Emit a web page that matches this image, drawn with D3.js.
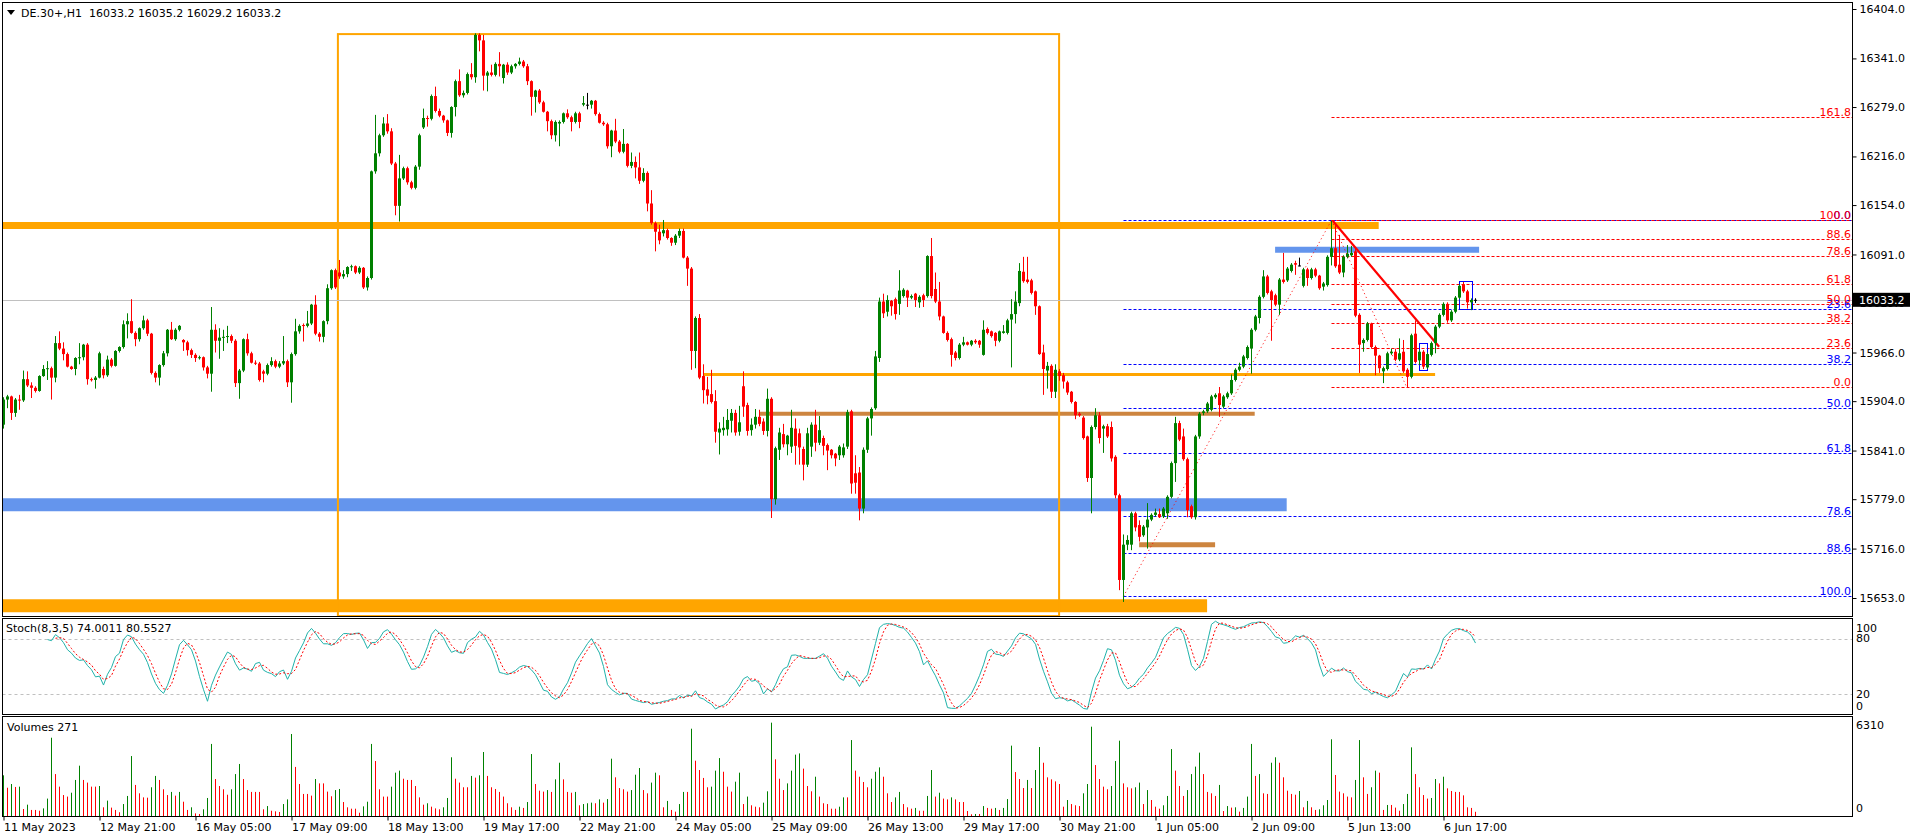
<!DOCTYPE html>
<html>
<head>
<meta charset="utf-8">
<script src="https://cdn.jsdelivr.net/npm/d3@7"></script>
<style>
  body { margin: 0; background: #fff; }
  svg { display: block; font-family: "DejaVu Sans", sans-serif; font-size: 11px; }
</style>
</head>
<body>
<svg id="chart" width="1916" height="840"></svg>
<script>
// DE.30+ H1 bars (bar 0 = left edge)
var opens = [
  15874,15906,15910,15889,15906,15905,15932,15924,15921,15917,15936,15945,
  15946,15934,15978,15971,15964,15948,15945,15959,15960,15976,15932,15931,
  15934,15945,15937,15957,15949,15968,15973,16002,16006,15991,15983,15997,
  16007,15990,15940,15934,15950,15965,15995,15983,15995,15982,15979,15969,
  15963,15959,15960,15947,15939,15995,15981,15985,15986,15987,15981,15927,
  15943,15983,15965,15953,15952,15942,15939,15950,15955,15948,15952,15955,
  15928,15964,15993,16001,16000,16003,16027,15990,15986,16006,16048,16071,
  16068,16063,16066,16075,16076,16068,16074,16049,16061,16197,16220,16243,
  16258,16248,16207,16153,16188,16201,16183,16176,16203,16253,16265,16264,
  16293,16274,16268,16262,16246,16279,16312,16294,16297,16321,16317,16371,
  16364,16319,16323,16320,16334,16316,16333,16323,16331,16334,16337,16331,
  16312,16292,16300,16285,16273,16261,16243,16258,16260,16271,16266,16260,
  16271,16282,16282,16282,16287,16270,16259,16257,16229,16249,16235,16222,
  16232,16204,16209,16202,16185,16195,16156,16131,16120,16118,16122,16112,
  16106,16115,16121,16087,16073,15968,16010,15936,15919,15913,15904,15864,
  15867,15868,15879,15889,15865,15923,15899,15867,15874,15884,15878,15866,
  15907,15779,15842,15862,15849,15846,15869,15863,15843,15823,15846,15874,
  15851,15857,15848,15842,15837,15835,15835,15846,15891,15812,15813,15767,
  15842,15882,15895,15959,16031,16018,16032,16034,16028,16038,16045,16036,
  16041,16030,16039,16038,16089,16047,16031,16012,15991,15983,15966,15959,
  15976,15979,15976,15981,15981,15963,15996,15993,15991,15981,15991,15991,
  16008,16015,16029,16069,16059,16058,16044,16025,15966,15943,15949,15916,
  15942,15937,15928,15916,15903,15888,15883,15859,15806,15871,15886,15869,
  15872,15871,15833,15784,15676,15721,15721,15761,15746,15733,15743,15753,
  15759,15760,15757,15761,15782,15825,15876,15859,15830,15770,15756,15859,
  15889,15891,15893,15909,15914,15897,15909,15914,15931,15944,15948,15959,
  15971,15995,16010,16037,16063,16044,16039,16027,16059,16058,16070,16080,
  16077,16051,16072,16061,16072,16064,16050,16052,16088,16099,16078,16068,
  16088,16090,16095,16014,15978,15982,16003,15973,15962,15942,15945,15965,
  15967,15957,15967,15944,15935,15990,15956,15967,15947,15963,15978,15999,
  16014,16028,16007,16018,16036,16053,16044,16030,16033.2
];
var highs = [
  15909,15912,15911,15908,15912,15943,15942,15928,15923,15937,15950,15955,
  15948,15987,15993,15979,15966,15949,15960,15978,15977,15978,15934,15936,
  15967,15948,15962,15959,15969,15974,16007,16016,16034,15993,15998,16013,
  16009,15991,15942,15951,15968,15996,16005,15997,16001,15983,15981,15971,
  15965,15962,15961,15949,16024,16002,15997,15995,16000,15989,15983,15945,
  15984,15990,15967,15956,15954,15944,15952,15960,15957,15955,15987,15957,
  15966,16009,16002,16003,16019,16028,16039,15992,16007,16053,16072,16073,
  16084,16071,16076,16078,16077,16076,16075,16063,16198,16269,16245,16266,
  16270,16252,16209,16218,16203,16203,16185,16205,16245,16277,16268,16295,
  16305,16277,16269,16263,16280,16314,16327,16300,16323,16335,16373,16373,
  16371,16325,16333,16336,16349,16334,16336,16333,16335,16342,16339,16334,
  16313,16301,16302,16287,16274,16263,16262,16262,16272,16276,16268,16273,
  16273,16293,16297,16288,16288,16272,16261,16259,16250,16264,16237,16251,
  16233,16221,16216,16221,16201,16197,16173,16133,16129,16135,16124,16113,
  16117,16124,16124,16089,16075,16012,16015,15951,15935,15944,15918,15877,
  15884,15894,15894,15893,15898,15942,15902,15882,15894,15893,15882,15920,
  15909,15846,15870,15875,15861,15893,15882,15869,15846,15870,15877,15893,
  15885,15860,15850,15843,15838,15848,15850,15893,15893,15835,15820,15845,
  15884,15896,15968,16036,16041,16039,16033,16036,16071,16048,16046,16040,
  16042,16039,16041,16090,16112,16068,16056,16013,15993,15985,15968,15978,
  15986,15980,15982,15983,15982,16007,15998,15994,15992,15994,16001,16009,
  16034,16044,16080,16088,16088,16060,16045,16026,15976,15954,15951,15951,
  15945,15940,15930,15917,15904,15890,15885,15860,15873,15895,15890,15874,
  15875,15878,15835,15786,15734,15733,15763,15763,15752,15746,15774,15761,
  15767,15767,15769,15784,15827,15884,15879,15869,15832,15772,15861,15890,
  15893,15903,15912,15914,15922,15912,15916,15938,15946,15953,15963,15975,
  15997,16014,16039,16071,16065,16046,16041,16061,16093,16075,16080,16083,
  16087,16074,16074,16074,16074,16065,16056,16090,16134,16131,16116,16090,
  16103,16102,16099,16016,15984,16005,16004,15975,15963,15948,15967,15971,
  15971,15984,15982,15946,15990,16007,15969,15969,15966,15980,16001,16016,
  16030,16030,16020,16038,16053,16056,16046,16035,16035.2
];
var lows = [
  15869,15895,15880,15884,15893,15903,15922,15908,15915,15916,15935,15931,
  15906,15928,15969,15956,15947,15944,15937,15951,15956,15925,15929,15920,
  15933,15933,15935,15947,15948,15966,15971,15984,15990,15974,15980,15995,
  15987,15938,15928,15924,15948,15961,15982,15981,15993,15968,15962,15959,
  15954,15957,15943,15933,15916,15966,15958,15968,15978,15978,15922,15907,
  15941,15962,15952,15950,15929,15928,15937,15948,15946,15946,15950,15922,
  15902,15962,15990,15980,15998,16001,15988,15980,15979,16002,16046,16047,
  16060,16060,16062,16070,16066,16066,16047,16045,16059,16194,16216,16241,
  16245,16205,16141,16133,16186,16180,16174,16174,16199,16251,16254,16262,
  16272,16266,16259,16242,16240,16267,16292,16291,16295,16314,16310,16350,
  16300,16299,16318,16318,16318,16309,16320,16321,16328,16332,16329,16307,
  16268,16272,16283,16272,16248,16238,16235,16229,16258,16264,16248,16258,
  16252,16280,16276,16277,16268,16258,16255,16226,16215,16233,16220,16220,
  16202,16201,16188,16181,16183,16146,16129,16095,16104,16114,16110,16102,
  16103,16112,16086,16051,15944,15946,15932,15901,15900,15901,15851,15836,
  15860,15860,15864,15860,15860,15884,15860,15860,15869,15872,15861,15859,
  15755,15772,15829,15845,15835,15838,15823,15823,15803,15820,15833,15840,
  15848,15835,15816,15831,15821,15829,15832,15843,15786,15786,15752,15761,
  15838,15860,15893,15954,16010,16012,16013,16008,16014,16036,16024,16034,
  16024,16023,16024,16036,16035,16029,16007,15990,15980,15948,15956,15957,
  15974,15975,15974,15977,15972,15962,15989,15985,15974,15979,15990,15989,
  15947,16003,16025,16055,16054,16040,16014,15963,15912,15920,15908,15908,
  15930,15920,15912,15901,15881,15884,15855,15801,15761,15868,15850,15838,
  15857,15827,15780,15663,15648,15714,15714,15738,15725,15731,15716,15751,
  15757,15755,15755,15754,15780,15801,15853,15828,15756,15754,15753,15856,
  15886,15889,15891,15907,15884,15895,15907,15912,15929,15942,15946,15957,
  15939,15993,16003,16035,16040,15981,16025,16014,16054,16056,16068,16065,
  16076,16049,16051,16059,16062,16046,16045,16050,16077,16074,16066,16062,
  16086,16088,16011,15940,15967,15980,15971,15937,15940,15927,15943,15963,
  15955,15955,15940,15922,15933,15952,15950,15945,15945,15961,15965,15997,
  16012,16004,16005,16016,16034,16042,16022,16020,16029.2
];
var closes = [
  15906,15910,15889,15906,15905,15932,15924,15921,15917,15936,15945,15946,
  15934,15978,15971,15964,15948,15945,15959,15960,15976,15932,15931,15934,
  15965,15937,15957,15949,15968,15973,16002,16006,15991,15983,15997,16007,
  15990,15940,15934,15950,15965,15995,15983,15995,16000,15979,15969,15963,
  15959,15960,15947,15939,15995,15981,15985,15986,15987,15981,15927,15943,
  15983,15965,15953,15952,15931,15939,15950,15955,15948,15952,15955,15928,
  15964,15993,16000,16000,16003,16027,15990,15986,16006,16048,16071,16049,
  16063,16066,16075,16076,16068,16074,16049,16061,16197,16220,16243,16258,
  16248,16207,16153,16188,16201,16183,16176,16203,16243,16265,16264,16293,
  16274,16268,16262,16246,16279,16312,16294,16297,16321,16317,16371,16364,
  16319,16323,16320,16334,16331,16333,16323,16331,16334,16337,16331,16312,
  16292,16300,16285,16273,16261,16243,16260,16260,16271,16266,16260,16271,
  16260,16284,16282,16287,16270,16259,16257,16229,16249,16235,16222,16232,
  16204,16209,16202,16185,16195,16156,16131,16120,16109,16122,16112,16106,
  16115,16121,16087,16073,15968,16010,15934,15918,15911,15903,15865,15869,
  15870,15880,15889,15864,15877,15897,15866,15874,15884,15875,15866,15907,
  15779,15844,15864,15849,15860,15870,15847,15845,15823,15863,15874,15851,
  15867,15847,15841,15835,15831,15846,15845,15890,15799,15800,15767,15842,
  15882,15894,15961,16031,16016,16033,16025,16015,16045,16046,16036,16038,
  16033,16037,16033,16089,16038,16031,16012,15991,15982,15963,15959,15976,
  15979,15976,15981,15979,15976,15995,15991,15987,15981,15993,15993,16007,
  16015,16031,16070,16057,16056,16042,16025,15964,15945,15949,15916,15944,
  15936,15929,15915,15903,15886,15886,15857,15806,15871,15886,15857,15872,
  15859,15831,15784,15676,15721,15727,15761,15743,15731,15744,15753,15759,
  15762,15756,15767,15782,15825,15876,15855,15830,15765,15756,15859,15888,
  15891,15901,15910,15912,15899,15910,15914,15931,15944,15948,15961,15973,
  15995,16012,16037,16063,16042,16033,16027,16059,16056,16073,16078,16078,
  16077,16072,16061,16072,16064,16048,16054,16088,16099,16076,16068,16088,
  16092,16093,16013,15976,15982,16003,15973,15962,15946,15946,15965,15967,
  15957,15965,15942,15935,15988,15954,15967,15948,15964,15978,15999,16014,
  16028,16007,16018,16036,16051,16044,16030,16033,16033.2
];
var volumes = [
  2620,1820,2060,1870,1890,450,730,390,390,340,490,1120,
  5040,2700,1890,1350,1250,1500,2320,3240,2320,2150,1890,1890,
  1930,560,990,540,390,240,770,1290,3860,2000,1460,1200,
  1180,1850,2580,2320,1720,1350,1550,1310,1550,920,390,560,
  170,130,430,1160,4640,2380,1930,1720,1370,1720,2700,3350,
  2380,1670,1550,1550,1550,430,640,340,300,260,770,1070,
  5280,3160,2060,1420,1420,1310,2380,2100,2100,1570,1270,1670,
  1740,900,560,470,470,210,620,920,4640,3540,1720,1250,
  1250,1890,2790,2920,2400,2320,2320,1930,1200,730,820,600,
  490,430,560,1160,3780,2400,2150,1850,1850,2580,2470,2620,
  4120,2580,1850,1740,1550,1250,820,560,390,600,520,900,
  3990,2060,1630,1570,1670,1550,2360,3430,2360,1550,1500,1550,
  690,770,820,860,820,1070,860,1090,3690,2490,1800,1720,
  1570,1670,2660,3090,1670,1460,2150,2790,2620,560,970,390,
  280,770,1550,1550,5620,3560,2960,2450,1850,1890,2920,3730,
  2850,1890,1570,2210,2790,770,1250,690,600,560,860,1590,
  6010,3650,2400,1670,2100,2920,3950,4030,3050,1930,1590,2530,
  1250,820,770,470,470,600,1200,1200,4890,2920,2530,2190,
  1850,2400,2850,3130,2530,1460,900,1200,1550,770,560,470,
  520,340,340,1290,2960,1250,1500,1120,1070,1200,1070,900,
  900,320,110,130,130,640,520,470,520,390,520,1090,
  4530,2830,2380,1800,2320,1800,2960,4440,3430,2490,2360,2230,
  2060,600,1030,770,690,640,1460,2060,5750,3280,2380,1890,
  1720,1930,3540,4850,2100,1850,1780,1850,2150,770,1670,1030,
  600,470,690,1290,4310,2920,1930,1290,1670,2700,3180,4080,
  2700,1550,1460,1290,2000,320,640,540,560,280,520,1250,
  4640,2580,2700,1460,1420,3430,3780,3430,2490,1630,1420,1370,
  1610,560,970,560,390,430,690,1030,4940,2640,1570,1460,
  1250,1200,2320,4890,2490,1420,1850,2920,2790,390,710,710,
  540,340,770,1420,4420,2700,1850,1350,1120,1160,2380,2100,
  2530,1780,1610,1550,1550,1330,560,520,271
];

// time axis
var timeTickBars = [0,24,48,72,96,120,144,168,192,216,240,264,288,312,336,360];
var timeLabels = ["11 May 2023","12 May 21:00","16 May 05:00","17 May 09:00","18 May 13:00",
  "19 May 17:00","22 May 21:00","24 May 05:00","25 May 09:00","26 May 13:00","29 May 17:00",
  "30 May 21:00","1 Jun 05:00","2 Jun 09:00","5 Jun 13:00","6 Jun 17:00"];
var priceTicks = [16404,16341,16279,16216,16154,16091,16029,15966,15904,15841,15779,15716,15653];
var lastPrice = 16033.2;

// drawn objects (price levels, bar ranges)
var zonePrices = [16128, 15938, 15888, 15772, 15643, 15721, 16097];
var zoneFrom   = [-2, 174.9, 188.9, -2, -2, 283.9, 317.9];
var zoneTo     = [343.8, 357.9, 312.8, 320.8, 300.9, 302.9, 368.9];
var boxBars = [83.6, 263.9];
var boxPrices = [16372, 15630];

var fibLevels = [0, 23.6, 38.2, 50, 61.8, 78.6, 88.6, 100];
var fibLevelsRed = [0, 23.6, 38.2, 50, 61.8, 78.6, 88.6, 100, 161.8];
var fibBlue = {bar1: 280, price1: 15655.2, bar2: 332, price2: 16134.6};
var fibRed = {bar1: 332, price1: 16134.6, bar2: 350.8, price2: 15921.7};
var trendBars = [332.3, 358.9];
var trendPrices = [16134, 15973.4];
var markBoxBars = [[353.9, 355.9], [363.9, 367.1]];
var markBoxPrices = [[15977.8, 15942.9], [16057.2, 16021.9]];

var stochLevels = [80, 20];

// ---------------------------------------------------------------
var svg = d3.select("#chart");
var frameL = 2.5, frameR = 1852.5;
var mainTop = 2.5, mainBot = 616.5;
var stTop = 618.5, stBot = 714.5;
var vTop = 716.5, vBot = 816.5;

var x = d3.scaleLinear().domain([0, 368]).range([3.5, 1475.5]);
var y = d3.scaleLinear().domain([15653, 16404]).range([598, 9]);
var yS = d3.scaleLinear().domain([0, 100]).range([713, 620]);
var yV = d3.scaleLinear().domain([0, 6310]).range([816, 718]);

svg.append("rect").attr("width", 1916).attr("height", 840).attr("fill", "#fff");

var defs = svg.append("defs");
defs.append("clipPath").attr("id", "clipMain").append("rect")
  .attr("x", 3).attr("y", 3).attr("width", 1849).attr("height", 613);
defs.append("clipPath").attr("id", "clipSt").append("rect")
  .attr("x", 3).attr("y", 619).attr("width", 1849).attr("height", 95);
defs.append("clipPath").attr("id", "clipV").append("rect")
  .attr("x", 3).attr("y", 717).attr("width", 1849).attr("height", 99);

var main = svg.append("g").attr("clip-path", "url(#clipMain)");

// zones
var zoneColors = ["#FFA500", "#FFA500", "#CD853F", "#6495ED", "#FFA500", "#CD853F", "#6495ED"];
var zoneWidths = [7, 3, 4, 13, 13, 5, 6];
zonePrices.forEach(function (p, i) {
  main.append("line")
    .attr("x1", x(zoneFrom[i])).attr("x2", x(zoneTo[i]))
    .attr("y1", y(p)).attr("y2", y(p))
    .attr("stroke", zoneColors[i]).attr("stroke-width", zoneWidths[i]);
});

// big rectangle
main.append("rect")
  .attr("x", x(boxBars[0])).attr("y", y(boxPrices[0]))
  .attr("width", x(boxBars[1]) - x(boxBars[0]))
  .attr("height", y(boxPrices[1]) - y(boxPrices[0]))
  .attr("fill", "none").attr("stroke", "#FFA500").attr("stroke-width", 2);

// current price line
main.append("line")
  .attr("x1", frameL).attr("x2", frameR)
  .attr("y1", Math.round(y(lastPrice)) + 0.5).attr("y2", Math.round(y(lastPrice)) + 0.5)
  .attr("stroke", "#C0C0C0").attr("stroke-width", 1);

// fibonacci: blue one (retrace downwards from the high)
var fibG = svg.append("g");
function fibBlueLevel(l) { return fibBlue.price2 - l / 100 * (fibBlue.price2 - fibBlue.price1); }
function fibRedLevel(l) { return fibRed.price2 + l / 100 * (fibRed.price1 - fibRed.price2); }

fibLevels.forEach(function (l) {
  var py = Math.round(y(fibBlueLevel(l))) + 0.5;
  main.append("line").attr("x1", x(fibBlue.bar1)).attr("x2", frameR)
    .attr("y1", py).attr("y2", py)
    .attr("stroke", "#0000FF").attr("stroke-dasharray", "3,2");
  fibG.append("text").attr("x", 1851).attr("y", py - 2).attr("text-anchor", "end")
    .attr("fill", "#0000FF").text(l.toFixed(1));
});
fibLevelsRed.forEach(function (l) {
  var py = Math.round(y(fibRedLevel(l))) + 0.5;
  main.append("line").attr("x1", x(fibRed.bar1)).attr("x2", frameR)
    .attr("y1", py).attr("y2", py)
    .attr("stroke", "#FF0000").attr("stroke-dasharray", "3,2");
  fibG.append("text").attr("x", 1851).attr("y", py - 2).attr("text-anchor", "end")
    .attr("fill", "#FF0000").text(l.toFixed(1));
});
[fibBlue, fibRed].forEach(function (f) {
  main.append("line")
    .attr("x1", x(f.bar1)).attr("y1", y(f.price1))
    .attr("x2", x(f.bar2)).attr("y2", y(f.price2))
    .attr("stroke", "#FF0000").attr("stroke-dasharray", "1,3");
});

// trend line
main.append("line")
  .attr("x1", x(trendBars[0])).attr("y1", y(trendPrices[0]))
  .attr("x2", x(trendBars[1])).attr("y2", y(trendPrices[1]))
  .attr("stroke", "#FF0000").attr("stroke-width", 2.2);

// small marker boxes
markBoxBars.forEach(function (b, i) {
  main.append("rect")
    .attr("x", Math.round(x(b[0])) + 0.5).attr("y", Math.round(y(markBoxPrices[i][0])) + 0.5)
    .attr("width", Math.round(x(b[1]) - x(b[0])))
    .attr("height", Math.round(y(markBoxPrices[i][1]) - y(markBoxPrices[i][0])))
    .attr("fill", "none").attr("stroke", "#0000FF").attr("stroke-width", 1);
});

// candles
var candleColor = function (i) {
  if (closes[i] > opens[i]) return "#008000";
  if (closes[i] < opens[i]) return "#FF0000";
  return "#000000";
};
var cg = main.append("g");
closes.forEach(function (c, i) {
  var col = candleColor(i);
  var cx = x(i);
  cg.append("line").attr("x1", cx).attr("x2", cx)
    .attr("y1", y(highs[i])).attr("y2", y(lows[i]))
    .attr("stroke", col).attr("stroke-width", 1);
  var top = y(Math.max(opens[i], c)), bot = y(Math.min(opens[i], c));
  cg.append("rect").attr("x", cx - 1.5).attr("width", 3)
    .attr("y", top).attr("height", Math.max(1, bot - top))
    .attr("fill", col);
});

// frames
[[mainTop, mainBot], [stTop, stBot], [vTop, vBot]].forEach(function (f) {
  svg.append("rect").attr("x", frameL).attr("y", f[0])
    .attr("width", frameR - frameL).attr("height", f[1] - f[0])
    .attr("fill", "none").attr("stroke", "#000").attr("stroke-width", 1);
});

// price axis
var yAxis = d3.axisRight(y).tickValues(priceTicks).tickSize(4).tickPadding(3)
  .tickFormat(d3.format(".1f"));
var ya = svg.append("g").attr("transform", "translate(" + frameR + ",0)").call(yAxis);
ya.select(".domain").remove();
ya.selectAll("text").attr("font-family", "DejaVu Sans").attr("font-size", 11).attr("fill", "#000");

// last price tag
var ly = y(lastPrice);
svg.append("rect").attr("x", 1853).attr("y", ly - 7).attr("width", 57).attr("height", 14).attr("fill", "#000");
svg.append("text").attr("x", 1859).attr("y", ly).attr("dy", "0.35em")
  .attr("fill", "#fff").text(lastPrice.toFixed(1));

// header
svg.append("path").attr("d", "M7,10 L15,10 L11,15 Z").attr("fill", "#000");
svg.append("text").attr("x", 21).attr("y", 17).attr("fill", "#000")
  .text("DE.30+,H1  16033.2 16035.2 16029.2 16033.2").attr("xml:space", "preserve")
  .style("white-space", "pre");

// stochastic (8,3,5)
var K = 8, D = 3, SL = 5;
var stMain = closes.map(function (c, i) {
  if (i < K - 1 + SL - 1) return null;
  var num = 0, den = 0;
  for (var j = i - SL + 1; j <= i; j++) {
    var ll = d3.min(lows.slice(j - K + 1, j + 1));
    var hh = d3.max(highs.slice(j - K + 1, j + 1));
    num += closes[j] - ll; den += hh - ll;
  }
  return den === 0 ? 100 : 100 * num / den;
});
var stSig = stMain.map(function (v, i) {
  if (i < K - 1 + SL - 1 + D - 1) return null;
  return d3.mean(stMain.slice(i - D + 1, i + 1));
});
var stG = svg.append("g").attr("clip-path", "url(#clipSt)");
stochLevels.forEach(function (l) {
  stG.append("line").attr("x1", frameL).attr("x2", frameR)
    .attr("y1", Math.round(yS(l)) + 0.5).attr("y2", Math.round(yS(l)) + 0.5)
    .attr("stroke", "#C0C0C0").attr("stroke-dasharray", "3,3");
});
var stLine = d3.line().defined(function (d) { return d != null; })
  .x(function (d, i) { return x(i); }).y(function (d) { return yS(d); });
stG.append("path").datum(stMain).attr("d", stLine)
  .attr("fill", "none").attr("stroke", "#20B2AA").attr("stroke-width", 1);
stG.append("path").datum(stSig).attr("d", stLine)
  .attr("fill", "none").attr("stroke", "#FF0000").attr("stroke-width", 1).attr("stroke-dasharray", "2,2");

svg.append("text").attr("x", 6).attr("y", 632).attr("fill", "#000")
  .text("Stoch(8,3,5) 74.0011 80.5527");
[[100, 8], [80, 0], [20, 0], [0, -7]].forEach(function (d) {
  svg.append("text").attr("x", 1856).attr("y", yS(d[0]) + d[1]).attr("dy", "0.35em")
    .attr("fill", "#000").text(d[0]);
});

// volumes
var vG = svg.append("g").attr("clip-path", "url(#clipV)");
volumes.forEach(function (v, i) {
  var up = i === 0 ? true : v > volumes[i - 1];
  vG.append("line").attr("x1", x(i)).attr("x2", x(i))
    .attr("y1", yV(0)).attr("y2", yV(v))
    .attr("stroke", up ? "#008000" : "#FF0000").attr("stroke-width", 1);
});
svg.append("text").attr("x", 7).attr("y", 731).attr("fill", "#000")
  .text("Volumes " + volumes[volumes.length - 1]);
svg.append("text").attr("x", 1856).attr("y", yV(6310) + 7).attr("dy", "0.35em").attr("fill", "#000").text("6310");
svg.append("text").attr("x", 1856).attr("y", yV(0) - 8).attr("dy", "0.35em").attr("fill", "#000").text("0");

// time axis
var xAxis = d3.axisBottom(x).tickValues(timeTickBars).tickSize(4).tickPadding(3)
  .tickFormat(function (d, i) { return timeLabels[i]; });
var xa = svg.append("g").attr("transform", "translate(0," + vBot + ")").call(xAxis);
xa.select(".domain").remove();
xa.selectAll("text").attr("text-anchor", "start").attr("x", 0)
  .attr("font-family", "DejaVu Sans").attr("font-size", 11).attr("fill", "#000");
</script>
</body>
</html>
